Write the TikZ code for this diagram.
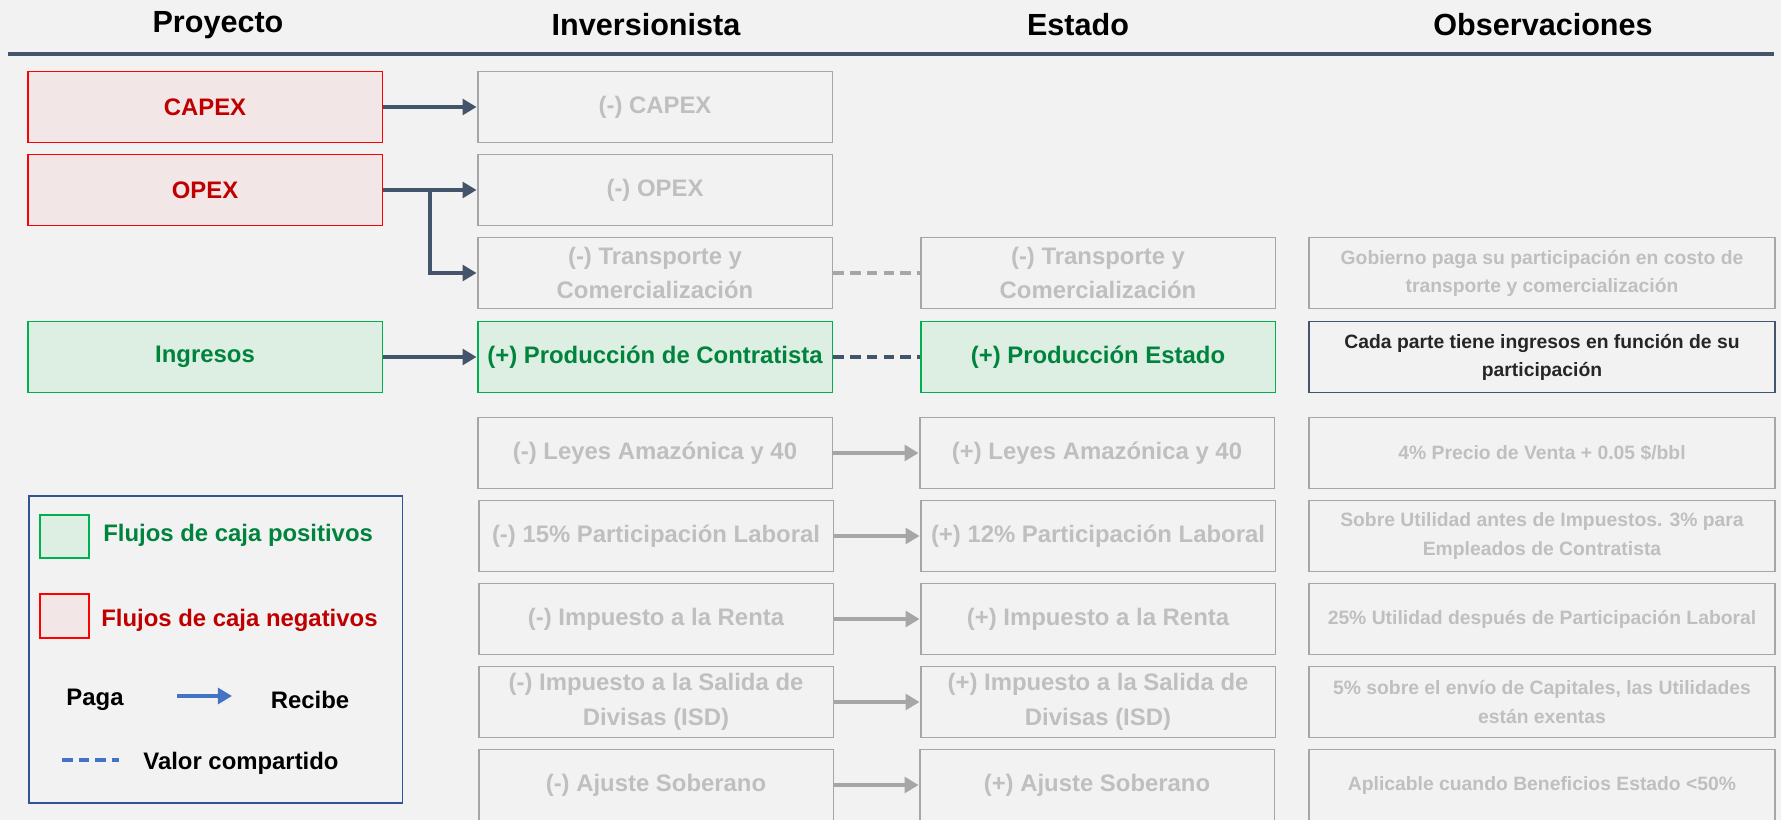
\documentclass[tikz,border=0pt]{standalone}
\usepackage{fontspec}
\setmainfont{Liberation Sans}
\usetikzlibrary{arrows.meta, calc}

\definecolor{fondo}{HTML}{F2F2F2}
\definecolor{pizarra}{HTML}{44546A}
\definecolor{rojo}{HTML}{FF0000}
\definecolor{rojoosc}{HTML}{C00000}
\definecolor{rojoclaro}{HTML}{F2E6E6}
\definecolor{verde}{HTML}{00B050}
\definecolor{verdeosc}{HTML}{00843D}
\definecolor{verdeclaro}{HTML}{DDEEE3}
\definecolor{gris}{HTML}{A6A6A6}
\definecolor{grisclaro}{HTML}{BFBFBF}
\definecolor{azul}{HTML}{4472C4}
\definecolor{azulosc}{HTML}{2F5597}

\newcommand{\titfont}{\fontsize{17.4}{20}\selectfont\bfseries}
\newcommand{\cajafont}{\fontsize{13.6}{19.7}\selectfont\bfseries}
\newcommand{\obsfont}{\fontsize{11}{16}\selectfont\bfseries}

\tikzset{
  caja/.style={draw, line width=1.1pt, minimum width=7.1cm, minimum height=1.42cm,
    align=center, font=\cajafont, inner sep=0pt},
  negativo/.style={caja, draw=rojo, fill=rojoclaro, text=rojoosc},
  positivo/.style={caja, draw=verde, fill=verdeclaro, text=verdeosc},
  inactivo/.style={caja, draw=gris, fill=fondo, text=grisclaro},
  obs/.style={inactivo, minimum width=9.32cm, font=\obsfont},
  obsactiva/.style={obs, draw=pizarra, text=black!85},
  darrow/.style={draw=pizarra, line width=2.3pt, -{Triangle[length=8pt, width=9pt]}},
  garrow/.style={draw=gris, line width=2.3pt, -{Triangle[length=8pt, width=9pt]}},
  compartido/.style={line width=2.3pt, dash pattern=on 6pt off 3.5pt},
  titulo/.style={font=\titfont},
}

\begin{document}
\begin{tikzpicture}[x=0.02cm, y=-0.02cm]
  \useasboundingbox (0,0) rectangle (1781,820);
  \fill[fondo] (0,0) rectangle (1781,820);
  \clip (0,0) rectangle (1781,820);

  % encabezados
  \node[titulo] (hproy) at (218,25) {Proyecto};
  \node[titulo] (hinv) at (646,25) {Inversionista};
  \node[titulo] (hest) at (1078,25) {Estado};
  \node[titulo] (hobs) at (1543,25) {Observaciones};
  \draw[pizarra, line width=2.4pt] (8,54) -- (1774,54);

  % proyecto
  \node[negativo] (capex) at (205,107) {CAPEX};
  \node[negativo] (opex) at (205,190) {OPEX};
  \node[positivo] (ingresos) at (205,357) {Ingresos};

  % inversionista
  \node[inactivo] (icapex) at (655,107) {(-) CAPEX};
  \node[inactivo] (iopex) at (655,190) {(-) OPEX};
  \node[inactivo] (itrans) at (655,273) {(-) Transporte y\\Comercialización};
  \node[positivo] (iprod) at (655,357) {(+) Producción de Contratista};
  \node[inactivo] (ileyes) at (655,453) {(-) Leyes Amazónica y 40};
  \node[inactivo] (ilab) at (656,536) {(-) 15\% Participación Laboral};
  \node[inactivo] (irenta) at (656,619) {(-) Impuesto a la Renta};
  \node[inactivo] (iisd) at (656,702) {(-) Impuesto a la Salida de\\Divisas (ISD)};
  \node[inactivo] (iajuste) at (656,785) {(-) Ajuste Soberano};

  % estado
  \node[inactivo] (etrans) at (1098,273) {(-) Transporte y\\Comercialización};
  \node[positivo] (eprod) at (1098,357) {(+) Producción Estado};
  \node[inactivo] (eleyes) at (1097,453) {(+) Leyes Amazónica y 40};
  \node[inactivo] (elab) at (1098,536) {(+) 12\% Participación Laboral};
  \node[inactivo] (erenta) at (1098,619) {(+) Impuesto a la Renta};
  \node[inactivo] (eisd) at (1098,702) {(+) Impuesto a la Salida de\\Divisas (ISD)};
  \node[inactivo] (eajuste) at (1097,785) {(+) Ajuste Soberano};

  % observaciones
  \node[obs] (otrans) at (1542,273) {Gobierno paga su participación en costo de\\transporte y comercialización};
  \node[obsactiva] (oprod) at (1542,357) {Cada parte tiene ingresos en función de su\\participación};
  \node[obs] (oleyes) at (1542,453) {4\% Precio de Venta + 0.05 \$/bbl};
  \node[obs] (olab) at (1542,536) {Sobre Utilidad antes de Impuestos. 3\% para\\Empleados de Contratista};
  \node[obs] (orenta) at (1542,619) {25\% Utilidad después de Participación Laboral};
  \node[obs] (oisd) at (1542,702) {5\% sobre el envío de Capitales, las Utilidades\\están exentas};
  \node[obs] (oajuste) at (1542,785) {Aplicable cuando Beneficios Estado <50\%};

  % flechas
  \draw[darrow] (capex.east) -- (icapex.west);
  \draw[darrow] (opex.east) -- (iopex.west);
  \coordinate (bifurca) at ($(opex.east)!0.5!(iopex.west)$);
  \draw[darrow] (bifurca) |- (itrans.west);
  \draw[darrow] (ingresos.east) -- (iprod.west);
  \draw[gris, compartido] (itrans.east) -- (etrans.west);
  \draw[pizarra, compartido] (iprod.east) -- (eprod.west);
  \foreach \i/\e in {ileyes/eleyes, ilab/elab, irenta/erenta, iisd/eisd, iajuste/eajuste}
    \draw[garrow] (\i.east) -- (\e.west);

  % leyenda
  \node[draw=azulosc, line width=1.1pt, minimum width=7.48cm, minimum height=6.14cm, anchor=north west] (leyenda) at (27.6,495) {};
  \node[draw=verde, fill=verdeclaro, line width=1pt, minimum width=0.98cm, minimum height=0.86cm, anchor=north west] (cpos) at (39,514) {};
  \node[draw=rojo, fill=rojoclaro, line width=1pt, minimum width=0.98cm, minimum height=0.88cm, anchor=north west] (cneg) at (39,593) {};
  \node[font=\cajafont, text=verdeosc, anchor=west, inner sep=0pt] (lpos) at (103,535) {Flujos de caja positivos};
  \node[font=\cajafont, text=rojoosc, anchor=west, inner sep=0pt] (lneg) at (101,620) {Flujos de caja negativos};
  \node[font=\cajafont] (paga) at (95,700) {Paga};
  \node[font=\cajafont] (recibe) at (310,700) {Recibe};
  \node[font=\cajafont] (valor) at (241,763) {Valor compartido};
  \coordinate (fl1) at (177,696);
  \coordinate (fl2) at (232,696);
  \draw[azul, line width=2.3pt, -{Triangle[length=8pt, width=9pt]}] (fl1) -- (fl2);
  \coordinate (vc1) at (62,760);
  \coordinate (vc2) at (119,760);
  \draw[azul, compartido] (vc1) -- (vc2);
\end{tikzpicture}
\end{document}
